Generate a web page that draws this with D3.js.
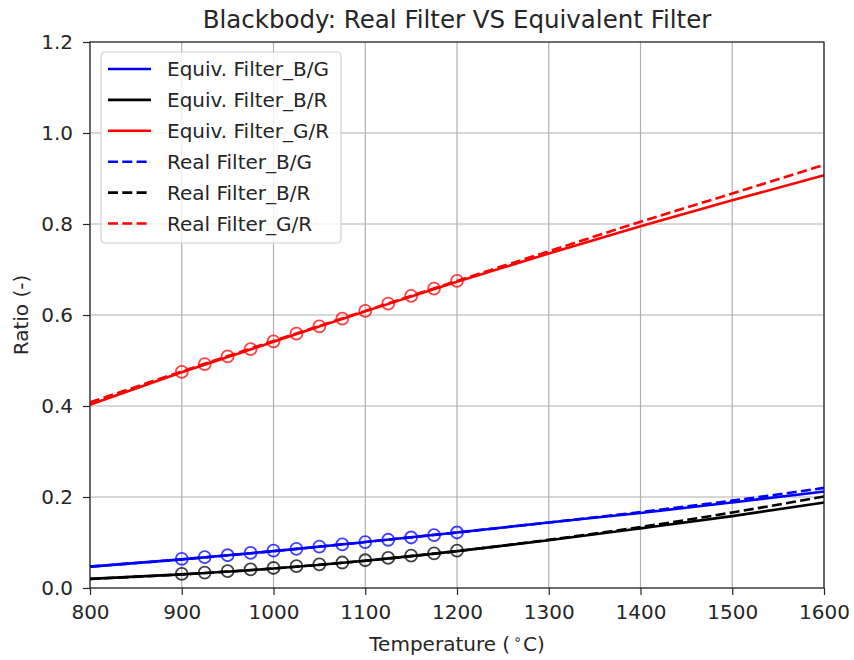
<!DOCTYPE html>
<html>
<head>
<meta charset="utf-8">
<script src="https://cdn.jsdelivr.net/npm/d3@7"></script>
<style>
  body { margin: 0; background: #fff; }
  svg { font-family: "DejaVu Sans", sans-serif; }
</style>
</head>
<body>
<svg id="chart" width="854" height="660"></svg>
<script>
// curve temperatures (°C) and sampled ratios
var temps = [800, 900, 1000, 1100, 1200, 1300, 1400, 1500, 1600];
var equivBG = [0.047, 0.063, 0.081, 0.101, 0.122, 0.144, 0.165, 0.188, 0.212];
var equivBR = [0.020, 0.030, 0.043, 0.060, 0.081, 0.105, 0.131, 0.158, 0.188];
var equivGR = [0.403, 0.474, 0.541, 0.608, 0.673, 0.735, 0.795, 0.852, 0.907];
var realBG = [0.047, 0.063, 0.081, 0.101, 0.122, 0.144, 0.167, 0.192, 0.220];
var realBR = [0.020, 0.030, 0.043, 0.060, 0.081, 0.106, 0.134, 0.166, 0.201];
var realGR = [0.408, 0.476, 0.543, 0.609, 0.675, 0.740, 0.805, 0.867, 0.930];

// measured points
var measTemps = [900, 925, 950, 975, 1000, 1025, 1050, 1075, 1100, 1125, 1150, 1175, 1200];
var measBG = [0.064, 0.068, 0.072, 0.077, 0.082, 0.086, 0.091, 0.096, 0.101, 0.106, 0.111, 0.116, 0.122];
var measBR = [0.031, 0.034, 0.037, 0.041, 0.044, 0.048, 0.052, 0.056, 0.061, 0.066, 0.071, 0.076, 0.082];
var measGR = [0.475, 0.492, 0.509, 0.525, 0.542, 0.559, 0.575, 0.592, 0.609, 0.625, 0.642, 0.658, 0.675];

var xTicks = [800, 900, 1000, 1100, 1200, 1300, 1400, 1500, 1600];
var yTicks = [0, 0.2, 0.4, 0.6, 0.8, 1.0, 1.2];

var series = [
    {name: "Equiv. Filter_B/G", color: "blue", dash: null, values: equivBG},
    {name: "Equiv. Filter_B/R", color: "black", dash: null, values: equivBR},
    {name: "Equiv. Filter_G/R", color: "red", dash: null, values: equivGR},
    {name: "Real Filter_B/G", color: "blue", dash: "10,4.3", values: realBG},
    {name: "Real Filter_B/R", color: "black", dash: "10,4.3", values: realBR},
    {name: "Real Filter_G/R", color: "red", dash: "10,4.3", values: realGR}
];
var points = [
    {color: "blue", values: measBG},
    {color: "black", values: measBR},
    {color: "red", values: measGR}
];

var margin = {left: 90, right: 30, top: 42, bottom: 72};
var width = 854 - margin.left - margin.right, height = 660 - margin.top - margin.bottom;
var fs = 20;
var ink = "#262626";

var svg = d3.select("#chart");
var g = svg.append("g").attr("transform", "translate(" + margin.left + "," + margin.top + ")");

var x = d3.scaleLinear().domain([800, 1600]).range([0, width]);
var y = d3.scaleLinear().domain([0, 1.2]).range([height, 0]);

// grid
g.append("g")
    .selectAll("line")
    .data(xTicks)
    .enter().append("line")
    .attr("x1", d => x(d)).attr("x2", d => x(d))
    .attr("y1", 0).attr("y2", height)
    .attr("stroke", "#b0b0b0").attr("stroke-width", 1.2)
g.append("g")
    .selectAll("line")
    .data(yTicks)
    .enter().append("line")
    .attr("y1", d => y(d)).attr("y2", d => y(d))
    .attr("x1", 0).attr("x2", width)
    .attr("stroke", "#b0b0b0").attr("stroke-width", 1.2)

var plot = g.append("g");

var line = d3.line()
    .x(d => x(d[0]))
    .y(d => y(d[1]))
    .curve(d3.curveMonotoneX);

series.forEach(function(s){
    plot.append("path")
        .datum(temps.map((t, i) => [t, s.values[i]]))
        .attr("d", line)
        .attr("fill", "none")
        .attr("stroke", s.color)
        .attr("stroke-width", 2.6)
        .attr("stroke-dasharray", s.dash)
});

points.forEach(function(p){
    plot.append("g")
        .selectAll("circle")
        .data(measTemps.map((t, i) => [t, p.values[i]]))
        .enter().append("circle")
        .attr("cx", d => x(d[0]))
        .attr("cy", d => y(d[1]))
        .attr("r", 6)
        .attr("fill", "none")
        .attr("stroke", p.color)
        .attr("stroke-opacity", 0.75)
        .attr("stroke-width", 1.8)
});

// axes
var xAxis = g.append("g")
    .attr("transform", "translate(0," + height + ")")
    .call(d3.axisBottom(x).tickValues(xTicks).tickSize(7).tickPadding(10).tickFormat(d3.format("d")));
var yAxis = g.append("g")
    .call(d3.axisLeft(y).tickValues(yTicks).tickSize(7).tickPadding(10).tickFormat(d3.format(".1f")));

[xAxis, yAxis].forEach(function(a){
    a.select(".domain").remove();
    a.selectAll("text").attr("font-size", fs).attr("fill", ink).attr("font-family", "DejaVu Sans");
    a.selectAll("line").attr("stroke", ink).attr("stroke-width", 1.2);
});

g.append("rect")
    .attr("width", width).attr("height", height)
    .attr("fill", "none").attr("stroke", ink).attr("stroke-width", 1.2)

// legend
var lg = svg.append("g").attr("transform", "translate(101,52)");
lg.append("rect")
    .attr("width", 240).attr("height", 191)
    .attr("rx", 4)
    .attr("fill", "white").attr("fill-opacity", 0.8)
    .attr("stroke", "#d0d0d0").attr("stroke-width", 1.2)

var item = lg.selectAll(".item")
    .data(series)
    .enter().append("g")
    .attr("class", "item")
    .attr("transform", (d, i) => "translate(0," + (17 + i * 30.9) + ")")

item.append("line")
    .attr("x1", 7).attr("x2", 50)
    .attr("stroke", d => d.color)
    .attr("stroke-width", 2.6)
    .attr("stroke-dasharray", d => d.dash)

item.append("text")
    .attr("x", 66).attr("dy", "0.36em")
    .attr("font-size", fs).attr("fill", ink)
    .text(d => d.name)

// titles
svg.append("text")
    .attr("x", margin.left + width / 2).attr("y", 28)
    .attr("text-anchor", "middle")
    .attr("font-size", 24.5).attr("fill", ink)
    .text("Blackbody: Real Filter VS Equivalent Filter")

var xl = svg.append("text")
    .attr("x", margin.left + width / 2).attr("y", 651)
    .attr("text-anchor", "middle")
    .attr("font-size", fs).attr("fill", ink)
xl.append("tspan").text("Temperature (")
xl.append("tspan").attr("font-size", 14).attr("dy", -7).attr("dx", 3).text("∘")
xl.append("tspan").attr("dy", 7).attr("dx", 1).text("C)")

svg.append("text")
    .attr("transform", "translate(28," + (margin.top + height / 2) + ") rotate(-90)")
    .attr("text-anchor", "middle")
    .attr("font-size", fs).attr("fill", ink)
    .text("Ratio (-)")
</script>
</body>
</html>
